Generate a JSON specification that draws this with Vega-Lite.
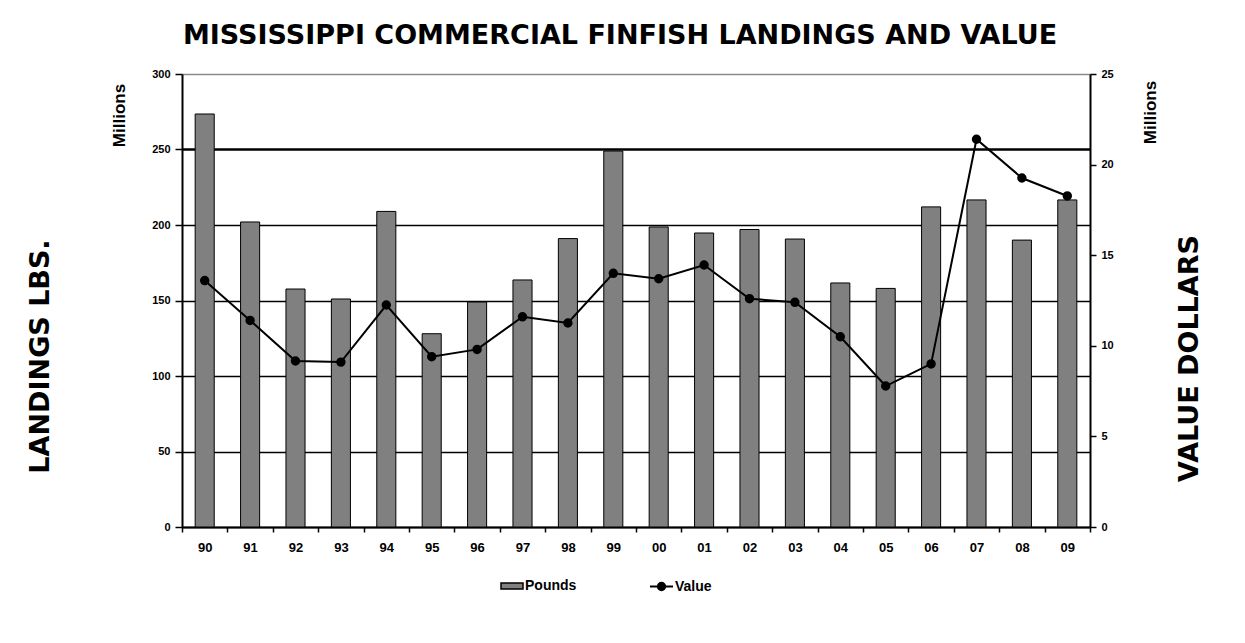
{
  "$schema": "https://vega.github.io/schema/vega-lite/v6.json",
  "width": 908,
  "height": 453,
  "autosize": {"type": "none"},
  "padding": {"left": 182, "top": 74, "right": 155, "bottom": 116},
  "background": "white",
  "title": {
    "text": "MISSISSIPPI COMMERCIAL FINFISH LANDINGS AND VALUE",
    "font": "DejaVu Sans",
    "fontWeight": "bold",
    "fontSize": 27,
    "color": "black",
    "anchor": "middle",
    "frame": "group",
    "dx": -16,
    "baseline": "alphabetic",
    "offset": -3
  },
  "data": {
    "values": [
      {"yr": "90", "pounds": 273.5, "value": 13.6},
      {"yr": "91", "pounds": 202, "value": 11.4},
      {"yr": "92", "pounds": 157.6, "value": 9.16},
      {"yr": "93", "pounds": 151, "value": 9.1},
      {"yr": "94", "pounds": 209, "value": 12.25},
      {"yr": "95", "pounds": 128, "value": 9.4},
      {"yr": "96", "pounds": 149, "value": 9.8},
      {"yr": "97", "pounds": 163.6, "value": 11.6},
      {"yr": "98", "pounds": 191, "value": 11.26},
      {"yr": "99", "pounds": 249, "value": 14.0},
      {"yr": "00", "pounds": 198.7, "value": 13.7},
      {"yr": "01", "pounds": 194.7, "value": 14.46},
      {"yr": "02", "pounds": 197, "value": 12.6},
      {"yr": "03", "pounds": 190.7, "value": 12.4},
      {"yr": "04", "pounds": 161.6, "value": 10.5},
      {"yr": "05", "pounds": 158, "value": 7.78},
      {"yr": "06", "pounds": 212, "value": 9.0},
      {"yr": "07", "pounds": 216.6, "value": 21.4},
      {"yr": "08", "pounds": 190, "value": 19.26},
      {"yr": "09", "pounds": 216.6, "value": 18.27}
    ]
  },
  "encoding": {
    "x": {
      "field": "yr",
      "type": "ordinal",
      "sort": null,
      "scale": {"paddingInner": 0, "paddingOuter": 0},
      "axis": {
        "title": null,
        "labelAngle": 0,
        "labelFont": "Liberation Sans",
        "labelFontWeight": "bold",
        "labelFontSize": 13,
        "labelColor": "black",
        "labelPadding": 9,
        "tickBand": "extent",
        "tickSize": 5,
        "tickColor": "black",
        "tickWidth": 1.5,
        "domainColor": "black",
        "domainWidth": 2,
        "grid": false
      }
    }
  },
  "layer": [
    {
      "mark": {"type": "bar", "width": {"band": 0.42}, "stroke": "black", "strokeWidth": 1},
      "encoding": {
        "y": {
          "field": "pounds",
          "type": "quantitative",
          "scale": {"domain": [0, 300], "nice": false},
          "axis": {
            "orient": "left",
            "values": [0, 50, 100, 150, 200, 250, 300],
            "title": "Millions",
            "titleFont": "Liberation Sans",
            "titleFontWeight": "bold",
            "titleFontSize": 17,
            "titleColor": "black",
            "titleAngle": 270,
            "titleAlign": "center",
            "titleBaseline": "middle",
            "titleX": -63,
            "titleY": 41,
            "labelFont": "Liberation Sans",
            "labelFontWeight": "bold",
            "labelFontSize": 11,
            "labelColor": "black",
            "labelPadding": 5,
            "tickSize": 7,
            "tickColor": "black",
            "tickWidth": 1.5,
            "domainColor": "black",
            "domainWidth": 2,
            "grid": true,
            "gridColor": {"condition": {"test": "datum.value === 300", "value": "#8a8a8a"}, "value": "black"},
            "gridWidth": {"condition": {"test": "datum.value === 250", "value": 2.5}, "value": 1.3}
          }
        },
        "fill": {
          "datum": "Pounds",
          "scale": {"range": ["#808080"]},
          "legend": {
            "orient": "none",
            "legendX": 318,
            "legendY": 500,
            "title": null,
            "padding": 0,
            "symbolType": "M-1,-0.27H1V0.27H-1Z",
            "symbolSize": 484,
            "symbolStrokeColor": "black",
            "symbolStrokeWidth": 1.5,
            "symbolFillColor": "#808080",
            "labelFont": "Liberation Sans",
            "labelFontWeight": "bold",
            "labelFontSize": 14,
            "labelColor": "black",
            "labelOffset": 1
          }
        }
      }
    },
    {
      "mark": {"type": "line", "color": "black", "strokeWidth": 2, "point": {"filled": true, "size": 55, "color": "black"}},
      "encoding": {
        "y": {
          "field": "value",
          "type": "quantitative",
          "scale": {"domain": [0, 25], "nice": false},
          "axis": {
            "orient": "right",
            "values": [0, 5, 10, 15, 20, 25],
            "title": "Millions",
            "titleFont": "Liberation Sans",
            "titleFontWeight": "bold",
            "titleFontSize": 17,
            "titleColor": "black",
            "titleAngle": 270,
            "titleAlign": "center",
            "titleBaseline": "middle",
            "titleX": 60,
            "titleY": 38,
            "labelFont": "Liberation Sans",
            "labelFontWeight": "bold",
            "labelFontSize": 11,
            "labelColor": "black",
            "labelPadding": 5,
            "tickSize": 6,
            "tickColor": "black",
            "tickWidth": 1.5,
            "domainColor": "black",
            "domainWidth": 2,
            "grid": false
          }
        },
        "stroke": {
          "datum": "Value",
          "scale": {"range": ["black"]},
          "legend": {
            "orient": "none",
            "legendX": 467,
            "legendY": 500,
            "title": null,
            "padding": 0,
            "symbolType": "M-1,0H1M0.32,0A0.32,0.32,0,1,1,-0.32,0A0.32,0.32,0,1,1,0.32,0Z",
            "symbolSize": 529,
            "symbolStrokeColor": "black",
            "symbolStrokeWidth": 2,
            "symbolFillColor": "black",
            "labelFont": "Liberation Sans",
            "labelFontWeight": "bold",
            "labelFontSize": 14,
            "labelColor": "black",
            "labelOffset": 1
          }
        }
      }
    },
    {
      "mark": {"type": "tick", "opacity": 0},
      "encoding": {
        "y": {
          "field": "pounds",
          "type": "quantitative",
          "axis": {
            "orient": "left",
            "title": "LANDINGS LBS.",
            "titleFont": "DejaVu Sans",
            "titleFontWeight": "bold",
            "titleFontSize": 27,
            "titleColor": "black",
            "titleAngle": 270,
            "titleAlign": "center",
            "titleBaseline": "middle",
            "titleX": -142,
            "titleY": 282,
            "labels": false,
            "ticks": false,
            "domain": false,
            "grid": false
          }
        }
      }
    },
    {
      "mark": {"type": "tick", "opacity": 0},
      "encoding": {
        "y": {
          "field": "value",
          "type": "quantitative",
          "axis": {
            "orient": "right",
            "title": "VALUE DOLLARS",
            "titleFont": "DejaVu Sans",
            "titleFontWeight": "bold",
            "titleFontSize": 27,
            "titleColor": "black",
            "titleAngle": 270,
            "titleAlign": "center",
            "titleBaseline": "middle",
            "titleX": 99,
            "titleY": 284,
            "labels": false,
            "ticks": false,
            "domain": false,
            "grid": false
          }
        }
      }
    }
  ],
  "resolve": {"scale": {"y": "independent"}, "axis": {"y": "independent"}},
  "config": {"view": {"stroke": null}}
}
